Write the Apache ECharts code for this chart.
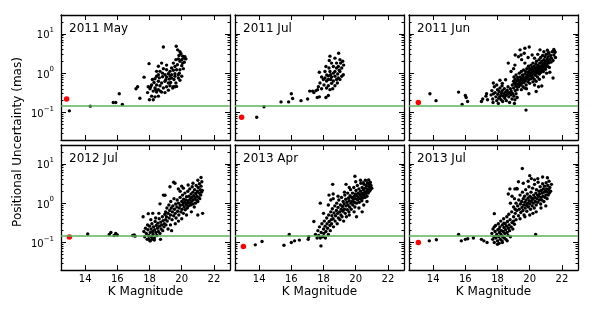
<!DOCTYPE html>
<html><head><meta charset="utf-8">
<script src="https://cdn.jsdelivr.net/npm/echarts@6/dist/echarts.min.js"></script>
<style>html,body{margin:0;padding:0;background:#fff}#c{width:609px;height:309px}</style>
</head><body><div id="c"></div>
<script>
const titles = ['2011 May','2011 Jul','2011 Jun','2012 Jul','2013 Apr','2013 Jul'];
const kTicks = [14,16,18,20,22];
const uMajor = [0.1,1,10];
const uMinor = [0.03,0.04,0.05,0.06,0.07,0.08,0.09,0.2,0.3,0.4,0.5,0.6,0.7,0.8,0.9,2,3,4,5,6,7,8,9,20];
const threshold = 0.15;
const refStar = [[12.85,0.22],[12.91,0.076],[13.08,0.18],[13.02,0.138],[13.02,0.079],[13.08,0.1]];

const may2011 = [[13.02,0.11],[14.32,0.145],[15.75,0.18],[15.9,0.18],[16.12,0.3],[16.31,0.16],[17.16,0.4],[17.26,0.45],[17.4,0.23],[17.66,0.79],[17.97,1.74],
[17.88,0.32],[17.92,0.45],[17.99,0.21],[18.03,0.4],[18.07,0.45],[18.13,0.5],[18.13,0.26],[18.18,0.69],[18.23,0.35],[18.23,0.21],[18.28,0.58],[18.34,0.72],[18.34,0.42],[18.34,0.25],[18.38,0.38],[18.44,0.83],[18.44,0.5],[18.44,0.33],[18.44,1.11],[18.55,0.62],[18.55,0.38],[18.55,0.26],[18.55,1.5],[18.55,0.91],[18.61,0.76],[18.65,0.48],[18.65,1.11],[18.67,0.35],[18.75,0.56],[18.75,0.33],[18.75,1.8],[18.81,0.81],[18.81,1.0],[18.86,0.42],[18.86,4.6],[18.86,1.3],[18.96,0.91],[18.96,0.32],[18.96,0.62],[19.02,0.69],[19.06,1.22],[19.06,0.45],[19.06,1.6],[19.06,0.8],[19.17,0.97],[19.17,0.37],[19.17,0.56],[19.23,0.71],[19.27,1.11],[19.27,0.48],[19.27,0.86],[19.31,0.58],[19.37,1.35],[19.37,0.91],[19.37,0.75],[19.44,0.42],[19.48,1.8],[19.48,1.18],[19.48,0.45],[19.52,0.69],[19.58,1.48],[19.58,0.97],[19.58,0.45],[19.58,0.83],[19.64,2.2],[19.64,0.56],[19.66,4.8],[19.68,1.22],[19.68,0.46],[19.73,1.64],[19.75,3.9],[19.79,2.3],[19.79,0.91],[19.79,0.75],[19.83,2.8],[19.85,1.0],[19.89,3.5],[19.89,2.0],[19.89,1.22],[19.89,0.66],[19.95,3.1],[20.0,2.2],[20.0,1.55],[20.0,0.83],[20.06,2.7],[20.06,1.8],[20.1,1.3],[20.14,2.4],[20.16,1.9],[20.2,2.6],[20.26,2.3]];

const jul2011 = [[13.85,0.076],[14.3,0.14],[15.36,0.186],[15.83,0.186],[16.0,0.3],[16.08,0.226],[16.6,0.2],[17.01,0.22],[17.14,0.35],[17.32,0.35],[17.4,0.32],[17.53,0.36],[17.63,0.38],[17.61,0.24],[17.74,0.25],[18.15,0.24],[18.3,0.27],
[18.94,3.2],[18.4,2.7],[18.36,2.1],[18.71,2.4],[19.02,2.2],[19.19,2.0],[18.5,1.8],[18.81,1.8],[19.06,1.8],[18.15,1.48],[18.61,1.48],[18.92,1.48],[19.13,1.35],[17.74,1.05],[18.09,1.1],[18.4,1.1],[18.71,1.1],[18.98,1.18],[19.23,0.91],[17.88,0.8],[18.09,0.75],[18.3,0.85],[18.5,0.8],[18.71,0.83],[18.92,0.75],[19.13,0.83],[17.99,0.69],[18.19,0.63],[18.44,0.69],[18.61,0.63],[18.81,0.69],[19.02,0.69],[17.78,0.56],[18.03,0.5],[18.3,0.48],[18.5,0.55],[18.71,0.48],[18.86,0.56],[17.68,0.45],[17.88,0.4],[18.19,0.42],[18.4,0.38],[18.57,0.4],[18.3,0.69],[18.44,0.91],[18.61,1.0],[18.81,1.35],[18.34,1.35],[19.02,1.1],[19.25,1.6],[18.2,0.9],[18.88,0.95]];

const jun2011 = [[13.8,0.3],[14.18,0.2],[15.58,0.33],[16.0,0.27],[16.05,0.24],[16.14,0.19],[15.8,0.16],[17.0,0.19],[17.08,0.22],[17.28,0.26],[17.32,0.3],[17.38,0.21],[19.77,0.115],
[17.6,0.28],[17.65,0.36],[17.7,0.22],[17.72,0.18],[17.8,0.45],[17.85,0.32],[17.9,0.25],[17.95,0.2],[18.0,0.38],[18.02,0.29],[18.05,0.17],[18.1,0.34],[18.12,0.24],[18.15,0.42],[18.2,0.27],[18.22,0.21],[18.25,0.31],[18.3,0.36],[18.32,0.19],[18.35,0.26],[18.4,0.3],[18.42,0.4],[18.45,0.23],[18.5,0.33],[18.52,0.27],[18.55,0.2],[18.6,0.37],[18.62,0.29],[18.65,0.45],[18.7,0.25],[18.72,0.32],[18.75,0.18],[18.8,0.4],[18.82,0.28],[18.85,0.35],[18.9,0.22],[18.92,0.5],[18.95,0.3],[19.0,0.42],[19.02,0.26],[19.05,0.17],[19.1,0.36],[19.12,0.55],[19.15,0.3],[19.2,0.45],[19.22,0.24],[17.75,0.3],[18.08,0.23],[18.28,0.48],[18.58,0.34],[18.88,0.31],[19.08,0.21],[17.74,0.56],[18.15,0.66],[18.5,0.68],[18.3,0.55],[17.95,0.5],
[19.0,0.62],[19.02,0.8],[19.05,0.55],[19.1,0.7],[19.13,0.48],[19.15,0.9],[19.2,0.62],[19.22,0.38],[19.25,0.78],[19.28,0.52],[19.3,0.68],[19.32,0.45],[19.35,1.0],[19.38,0.58],[19.4,0.8],[19.42,0.5],[19.45,0.65],[19.48,0.38],[19.48,1.1],[19.5,0.72],[19.52,0.55],[19.55,0.9],[19.58,0.45],[19.58,0.62],[19.6,0.8],[19.62,1.2],[19.65,0.58],[19.68,0.7],[19.68,0.42],[19.7,0.95],[19.72,0.65],[19.75,1.1],[19.78,0.5],[19.78,0.8],[19.8,0.72],[19.82,1.3],[19.85,0.9],[19.88,0.6],[19.88,1.05],[19.9,0.8],[19.92,1.5],[19.95,0.68],[19.98,1.15],[19.98,0.95],[20.0,1.3],[20.02,0.85],[20.05,1.0],[20.08,0.72],[20.08,1.6],[20.1,1.2],[20.12,0.9],[20.15,1.4],[20.18,1.05],[20.18,0.78],[20.2,1.8],[20.22,1.2],[20.25,0.95],[20.28,1.5],[20.28,0.7],[20.3,1.1],[20.32,1.35],[20.35,0.88],[20.38,1.7],[20.38,1.05],[20.4,1.25],[20.42,2.0],[20.45,1.0],[20.48,1.45],[20.48,0.8],[20.5,1.2],[20.52,1.6],[20.55,1.1],[20.58,2.2],[20.58,1.35],[20.6,0.95],[20.62,1.8],[20.65,1.25],[20.68,1.5],[20.68,2.5],[20.7,1.05],[20.72,1.4],[20.75,2.0],[20.78,1.2],[20.78,1.7],[20.8,2.8],[20.82,1.5],[20.85,1.1],[20.88,2.2],[20.88,1.35],[20.9,1.8],[20.92,1.6],[20.95,2.6],[20.98,1.25],[20.98,2.0],[21.0,1.45],[21.02,3.0],[21.05,1.7],[21.08,2.3],[21.1,1.5],[21.12,2.0],[21.15,2.6],[21.18,1.8],[21.2,3.3],[21.22,1.4],[21.25,2.2],[21.3,2.8],[21.32,1.9],[21.35,2.4],[21.4,3.5],[21.45,2.1],[21.5,2.9],[21.55,3.6],[21.6,2.5],
[19.8,0.4],[20.0,0.55],[20.2,0.6],[20.4,0.62],[20.6,0.7],[20.3,0.5],[20.85,0.8],[21.05,1.0],[21.25,1.05],[20.55,0.45],[19.95,0.3],[20.75,0.47],[21.45,0.75],[20.4,0.34],
[19.4,3.9],[19.7,4.3],[19.97,4.6],[19.46,2.9],[19.66,3.2],[20.64,3.9],[20.88,3.5],[21.15,3.2],[21.57,3.4],[18.67,1.8],[19.08,1.6],[18.84,1.1],[19.1,2.9],[19.3,2.6],[19.5,2.2],[19.0,1.3],[20.5,3.0],[19.9,2.5],[20.15,2.9],[19.7,1.8],[20.3,2.4],[21.1,3.8],[21.5,4.0]];

const jul2012 = [[14.16,0.165],[15.5,0.16],[15.6,0.18],[15.8,0.15],[15.9,0.17],[16.0,0.155],[16.95,0.15],[17.05,0.155],[17.1,0.145],[17.6,0.45],
[17.65,0.19],[17.7,0.14],[17.75,0.23],[17.8,0.17],[17.85,0.12],[17.9,0.21],[17.95,0.15],[18.0,0.26],[18.02,0.11],[18.05,0.18],[18.1,0.22],[18.12,0.14],[18.15,0.3],[18.2,0.19],[18.22,0.16],[18.25,0.25],[18.3,0.13],[18.32,0.21],[18.35,0.34],[18.4,0.18],[18.42,0.27],[18.45,0.15],[18.5,0.23],[18.52,0.31],[18.55,0.19],[18.6,0.4],[18.62,0.26],[18.65,0.17],[18.7,0.33],[18.72,0.22],[18.75,0.28],[18.8,0.45],[18.82,0.2],[18.85,0.36],[18.9,0.25],[18.92,0.3],[18.95,0.52],[19.0,0.38],[19.02,0.28],[17.88,0.28],[18.08,0.38],[18.38,0.42],[18.58,0.55],[18.68,0.12],[18.05,0.11],[18.15,0.12],[18.3,0.115],[17.95,0.125],
[19.0,0.6],[19.05,0.45],[19.08,0.75],[19.1,0.35],[19.15,0.55],[19.2,0.9],[19.22,0.42],[19.25,0.65],[19.3,0.5],[19.32,1.1],[19.35,0.75],[19.4,0.38],[19.42,0.6],[19.45,0.85],[19.5,0.48],[19.52,1.3],[19.55,0.7],[19.6,0.55],[19.62,0.95],[19.65,0.42],[19.7,0.8],[19.72,1.2],[19.75,0.62],[19.8,1.0],[19.82,0.5],[19.85,0.75],[19.9,1.4],[19.92,0.88],[19.95,0.6],[20.0,1.1],[20.02,0.7],[20.05,1.6],[20.08,0.92],[20.1,0.55],[20.12,1.25],[20.15,0.8],[20.18,1.05],[20.2,1.8],[20.22,0.68],[20.25,1.2],[20.28,0.9],[20.3,1.45],[20.32,1.0],[20.35,0.75],[20.38,2.0],[20.4,1.15],[20.42,0.85],[20.45,1.5],[20.48,1.0],[20.5,2.3],[20.52,1.25],[20.55,0.9],[20.58,1.7],[20.6,1.1],[20.62,1.4],[20.65,2.6],[20.68,0.95],[20.7,1.9],[20.72,1.2],[20.75,1.55],[20.78,0.8],[20.8,2.2],[20.82,1.35],[20.85,1.0],[20.88,1.75],[20.9,2.8],[20.92,1.2],[20.95,1.5],[20.98,2.0],[21.0,1.1],[21.02,2.5],[21.05,1.4],[21.08,1.8],[21.1,3.1],[21.12,1.3],[21.15,2.2],[21.18,1.6],[21.2,2.7],[21.22,1.9],[21.25,3.5],[21.28,2.1],
[19.27,2.6],[19.58,3.2],[19.79,2.3],[18.86,1.6],[18.65,0.96],[18.96,1.58],[19.5,3.4],[20.0,2.7],[21.2,4.5],[21.0,3.8],[20.7,3.2],[20.4,2.9],[19.9,2.0],[20.1,2.4],[18.2,0.55],[17.92,0.54],[19.37,0.2],[21.0,0.5],[21.3,0.55],[19.6,0.3],[19.8,0.35],[20.0,0.4],[20.3,0.5],[20.6,0.6],[19.3,0.28],[19.15,0.22]];

const apr2013 = [[13.76,0.087],[14.18,0.106],[15.54,0.085],[15.87,0.16],[16.0,0.1],[16.2,0.11],[16.5,0.115],[17.05,0.12],[17.08,0.14],[17.4,0.34],[17.84,0.082],[17.8,1.0],[18.34,1.6],[18.57,3.0],[19.95,4.8],
[17.5,0.16],[17.6,0.13],[17.65,0.2],[17.7,0.15],[17.75,0.25],[17.8,0.13],[17.85,0.18],[17.9,0.3],[17.95,0.14],[18.0,0.22],[18.02,0.17],[18.05,0.35],[18.1,0.26],[18.12,0.13],[18.15,0.19],[18.2,0.42],[18.22,0.3],[18.25,0.23],[18.3,0.16],[18.32,0.5],[18.35,0.34],[18.4,0.27],[18.42,0.2],[18.45,0.6],[18.48,0.38],
[18.5,0.3],[18.52,0.48],[18.55,0.72],[18.6,0.4],[18.62,0.25],[18.65,0.56],[18.7,0.85],[18.72,0.35],[18.75,0.48],[18.8,0.65],[18.82,1.0],[18.85,0.3],[18.88,0.55],[18.9,0.78],[18.92,0.42],[18.95,1.2],[19.0,0.6],[19.02,0.38],[19.05,0.9],[19.08,0.5],[19.1,0.7],[19.12,1.4],[19.15,0.45],[19.18,0.82],[19.2,0.62],[19.22,1.1],[19.25,0.35],[19.28,0.95],[19.3,0.7],[19.32,1.6],[19.35,0.55],[19.38,1.25],[19.4,0.85],[19.42,0.45],[19.45,1.05],[19.48,0.68],[19.5,1.8],[19.52,0.9],[19.55,1.35],[19.58,0.6],[19.6,1.15],[19.62,0.8],[19.65,1.55],[19.68,2.2],[19.7,1.0],[19.72,0.7],[19.75,1.4],[19.78,1.1],[19.8,1.8],[19.82,0.9],[19.85,1.25],[19.88,2.5],[19.9,1.5],[19.92,1.05],[19.95,0.8],[19.98,1.7],[20.0,1.3],[20.02,2.1],[20.05,1.0],[20.08,1.55],[20.1,2.8],[20.12,1.2],[20.15,1.8],[20.18,1.4],[20.2,2.3],[20.22,1.05],[20.25,1.65],[20.28,1.3],[20.3,2.0],[20.32,3.2],[20.35,1.5],[20.38,1.15],[20.4,2.5],[20.42,1.75],[20.45,1.35],[20.48,2.2],[20.5,1.6],[20.52,3.0],[20.55,1.9],[20.58,1.4],[20.6,2.4],[20.62,1.7],[20.65,2.8],[20.68,2.0],[20.7,1.5],[20.72,3.3],[20.75,2.2],[20.78,1.8],[20.8,2.6],[20.82,3.0],[20.85,2.0],[20.88,2.5],[20.9,3.4],[20.92,2.2],[20.95,2.8],[21.0,2.4],
[19.6,0.5],[19.9,0.6],[20.2,0.75],[20.5,0.9],[20.4,0.6],[20.05,0.45],[19.4,3.0],[19.6,2.5],[20.0,3.5],[20.3,3.8],[20.6,3.8],[20.8,3.9],[19.3,1.9],[18.9,1.5],[18.6,1.3],[20.7,1.1],[18.3,0.9],[18.0,0.55],[20.47,3.3],[20.89,3.3],[18.6,1.7],[18.45,1.2]];

const jul2013 = [[13.76,0.11],[14.2,0.117],[15.58,0.16],[15.75,0.11],[16.0,0.12],[16.15,0.125],[16.5,0.13],[17.0,0.12],[17.15,0.11],[17.35,0.1],[17.8,0.54],[20.37,0.16],
[17.65,0.17],[17.7,0.12],[17.72,0.22],[17.78,0.14],[17.8,0.1],[17.85,0.19],[17.88,0.27],[17.9,0.13],[17.95,0.16],[18.0,0.11],[18.02,0.21],[18.05,0.3],[18.08,0.14],[18.1,0.095],[18.12,0.18],[18.15,0.25],[18.18,0.12],[18.2,0.35],[18.22,0.16],[18.25,0.2],[18.28,0.11],[18.3,0.28],[18.32,0.14],[18.35,0.19],[18.38,0.4],[18.4,0.24],[18.42,0.13],[18.45,0.17],[18.48,0.3],[18.5,0.21],[18.52,0.12],[18.55,0.26],[18.58,0.45],[18.6,0.18],[18.62,0.34],[18.65,0.15],[18.68,0.23],[18.7,0.52],[18.72,0.28],[18.75,0.2],[18.78,0.38],[18.8,0.14],[18.85,0.25],[18.88,0.6],[18.9,0.32],[18.95,0.22],[19.0,0.45],[19.05,0.29],[19.1,0.7],[19.15,0.38],[18.0,0.09],[18.3,0.1],[18.6,0.11],[17.8,0.25],[18.1,0.22],[18.4,0.31],
[19.0,0.8],[19.05,1.3],[19.1,0.55],[19.15,1.0],[19.2,0.65],[19.22,2.3],[19.25,0.85],[19.3,0.48],[19.32,1.2],[19.35,0.7],[19.4,1.6],[19.42,0.95],[19.45,0.58],[19.5,1.1],[19.52,0.78],[19.55,1.9],[19.58,0.65],[19.6,1.3],[19.62,0.9],[19.65,0.5],[19.68,1.5],[19.7,1.05],[19.72,0.75],[19.75,2.2],[19.78,1.2],[19.8,0.88],[19.82,0.62],[19.85,1.7],[19.88,1.0],[19.9,1.35],[19.92,0.8],[19.95,2.6],[19.98,1.15],[20.0,0.95],[20.02,1.5],[20.05,0.7],[20.08,1.9],[20.1,1.1],[20.12,1.35],[20.15,0.85],[20.18,2.4],[20.2,1.25],[20.22,1.0],[20.25,1.6],[20.28,0.75],[20.3,3.0],[20.32,1.4],[20.35,1.1],[20.38,1.8],[20.4,0.9],[20.42,2.2],[20.45,1.3],[20.48,1.6],[20.5,1.05],[20.52,3.4],[20.55,1.5],[20.58,2.0],[20.6,1.2],[20.62,1.7],[20.65,2.6],[20.68,0.95],[20.7,1.4],[20.72,2.1],[20.75,1.2],[20.78,1.8],[20.8,3.1],[20.82,1.5],[20.85,2.3],[20.88,1.1],[20.9,1.9],[20.92,2.7],[20.95,1.4],[20.98,2.0],[21.0,1.6],[21.02,3.3],[21.05,2.3],[21.08,1.3],[21.1,1.9],[21.12,2.8],[21.15,1.6],[21.18,2.2],[21.2,3.6],[21.22,1.8],[21.25,2.5],[21.3,2.0],[21.35,3.0],
[19.54,7.6],[20.0,5.0],[20.1,4.2],[19.08,2.3],[19.2,2.35],[18.77,2.3],[18.67,1.7],[18.9,1.5],[19.3,3.5],[19.6,3.2],[20.5,4.2],[20.8,4.6],[21.1,4.4],[20.3,3.9],[19.9,3.6],[18.8,1.0],[19.0,0.35],[19.4,0.4],[19.7,0.45],[20.0,0.5],[20.4,0.6],[20.7,0.75],[21.0,0.85],[20.2,0.55]];

const panelData = [may2011, jul2011, jun2011, jul2012, apr2013, jul2013];

const FONT = 'DejaVu Sans';
const LEFTS = [61, 235, 409], TOPS = [15, 145], W = 169, H = 125;
const grid = [], xAxis = [], yAxis = [], series = [], title = [];
function supLabel(v) {
  const e = Math.round(Math.log10(v));
  return '{b|10}{s|' + (e < 0 ? '\u2212' + (-e) : e) + '}';
}
for (let i = 0; i < 6; i++) {
  const c = i % 3, r = Math.floor(i / 3);
  grid.push({left: LEFTS[c], top: TOPS[r], width: W, height: H, outerBoundsMode: 'none'});
  const xBase = {gridIndex: i, type: 'value', min: 12.5, max: 23, splitLine: {show: false},
    axisLine: {show: true, onZero: false, lineStyle: {color: '#000', width: 1.3}}};
  xAxis.push(Object.assign({}, xBase, {position: 'bottom',
    axisTick: {show: true, inside: true, length: 5, customValues: kTicks, lineStyle: {color: '#000'}},
    axisLabel: {show: r === 1, customValues: kTicks, fontFamily: FONT, fontSize: 10, color: '#000', margin: 4},
    name: r === 1 ? 'K Magnitude' : '', nameLocation: 'middle', nameGap: 16,
    nameTextStyle: {fontFamily: FONT, fontSize: 12, color: '#000'}}));
  xAxis.push(Object.assign({}, xBase, {position: 'top',
    axisTick: {show: true, inside: true, length: 5, customValues: kTicks, lineStyle: {color: '#000'}},
    axisLabel: {show: false}}));
  const yBase = {gridIndex: i, type: 'log', logBase: 10, min: 0.02, max: 30, splitLine: {show: false}};
  ['left', 'right'].forEach(function (pos) {
    yAxis.push(Object.assign({}, yBase, {position: pos,
      axisLine: {show: true, onZero: false, lineStyle: {color: '#000', width: 1.3}},
      axisTick: {show: true, inside: true, length: 5, customValues: uMajor, lineStyle: {color: '#000'}},
      axisLabel: {show: pos === 'left' && c === 0, customValues: uMajor, margin: 7, formatter: supLabel,
        rich: {b: {fontFamily: FONT, fontSize: 10, color: '#000', verticalAlign: 'bottom', lineHeight: 14},
               s: {fontFamily: FONT, fontSize: 7, color: '#000', verticalAlign: 'top', lineHeight: 14}}}}));
    yAxis.push(Object.assign({}, yBase, {position: pos,
      axisLine: {show: false},
      axisTick: {show: true, inside: true, length: 2.5, customValues: uMinor, lineStyle: {color: '#000'}},
      axisLabel: {show: false}}));
  });
  const xi = 2 * i, yi = 4 * i;
  series.push({type: 'scatter', xAxisIndex: xi, yAxisIndex: yi, data: [], z: 1, silent: true,
    markLine: {silent: true, symbol: 'none', label: {show: false}, animation: false,
      lineStyle: {color: '#5cb35c', width: 1.6, type: 'solid', opacity: 1}, data: [{yAxis: threshold}]}});
  series.push({type: 'scatter', xAxisIndex: xi, yAxisIndex: yi, data: panelData[i], z: 2,
    symbolSize: 3.4, itemStyle: {color: '#000', opacity: 1}});
  series.push({type: 'scatter', xAxisIndex: xi, yAxisIndex: yi, data: [refStar[i]], z: 3,
    symbolSize: 5.5, itemStyle: {color: '#ff0000', opacity: 1}});
  title.push({text: titles[i], left: LEFTS[c] + 8, top: TOPS[r] + 8, padding: 0,
    textStyle: {fontFamily: FONT, fontSize: 12, fontWeight: 'normal', color: '#000'}});
}
const chart = echarts.init(document.getElementById('c'), null, {renderer: 'canvas'});
chart.setOption({
  animation: false, backgroundColor: '#fff',
  title: title, grid: grid, xAxis: xAxis, yAxis: yAxis, series: series,
  graphic: [{type: 'text', x: 18, y: 142, rotation: Math.PI / 2,
    style: {text: 'Positional Uncertainty (mas)', fontFamily: FONT, fontSize: 12, fill: '#000',
      align: 'center', verticalAlign: 'middle'}}]
});
</script></body></html>
